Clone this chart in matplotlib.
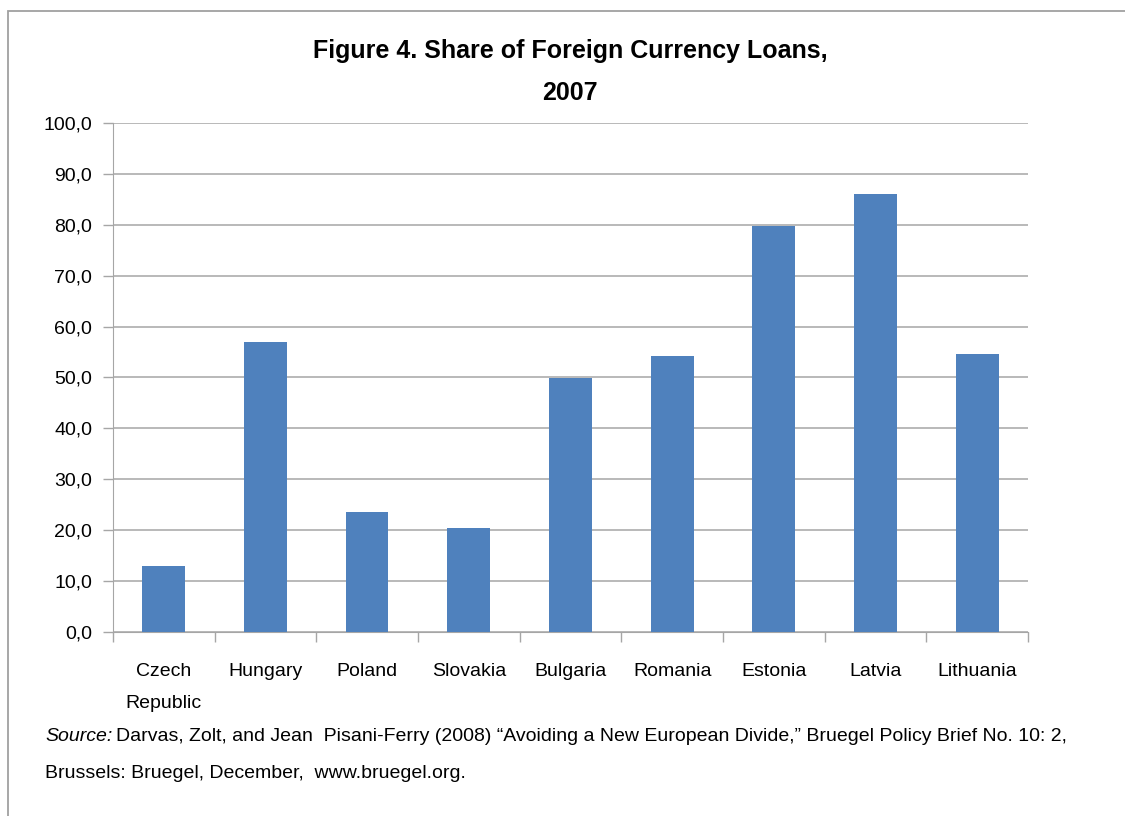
import matplotlib.pyplot as plt
import matplotlib.patches as mpatches
import numpy as np

countries = ["Czech\nRepublic", "Hungary", "Poland", "Slovakia", "Bulgaria",
             "Romania", "Estonia", "Latvia", "Lithuania"]
shares = [13.0, 57.0, 23.6, 20.4, 49.9, 54.2, 79.8, 86.1, 54.6]
yticks = [0, 10, 20, 30, 40, 50, 60, 70, 80, 90, 100]

plt.rcParams['font.family'] = ['Liberation Sans', 'DejaVu Sans']

fig = plt.figure(figsize=(11.25, 8.16), dpi=100)
ax = fig.add_axes([0.1004, 0.2255, 0.8134, 0.6238])

x = np.arange(len(countries))
ax.bar(x, shares, width=0.42, color="#4F81BD", zorder=3)

ax.set_xlim(-0.5, len(countries) - 0.5)
ax.set_ylim(0, 100)
ax.set_yticks(yticks)
ax.yaxis.set_major_formatter(plt.FuncFormatter(lambda v, p: ("%.1f" % v).replace(".", ",")))
ax.tick_params(axis="y", labelsize=14)
ax.grid(axis="y", color="#A6A6A6", linewidth=1.1, zorder=0)

ax.set_xticks(x)
ax.set_xticklabels(countries, fontsize=14, linespacing=2.2, va="top")
ax.tick_params(axis="x", which="major", length=0, pad=22)
ax.set_xticks(np.arange(-0.5, len(countries), 1), minor=True)
ax.tick_params(axis="x", which="minor", length=7, color="#A6A6A6", width=1)
ax.tick_params(axis="y", length=7, color="#A6A6A6", width=1, pad=8)

for s in ["top", "right"]:
    ax.spines[s].set_visible(False)
ax.spines["left"].set_color("#A6A6A6")
ax.spines["bottom"].set_color("#A6A6A6")

fig.text(0.507, 0.938, "Figure 4. Share of Foreign Currency Loans,", ha="center", va="center",
         fontsize=18, fontweight="bold")
fig.text(0.507, 0.886, "2007", ha="center", va="center", fontsize=18, fontweight="bold")

fig.text(0.040, 0.098, "Source:", ha="left", va="center", fontsize=14, style="italic")
fig.text(0.103, 0.098,
         "Darvas, Zolt, and Jean  Pisani-Ferry (2008) \u201cAvoiding a New European Divide,\u201d "
         "Bruegel Policy Brief No. 10: 2,", ha="left", va="center", fontsize=14)
fig.text(0.040, 0.052, "Brussels: Bruegel, December,  www.bruegel.org.", ha="left", va="center",
         fontsize=14)

frame = mpatches.Rectangle((8 / 1125, -0.1), 1.2, 1.1 - 11 / 816, transform=fig.transFigure,
                           fill=False, edgecolor="#A0A0A0", linewidth=1.3)
fig.patches.append(frame)

fig.savefig("out.png", dpi=100)
